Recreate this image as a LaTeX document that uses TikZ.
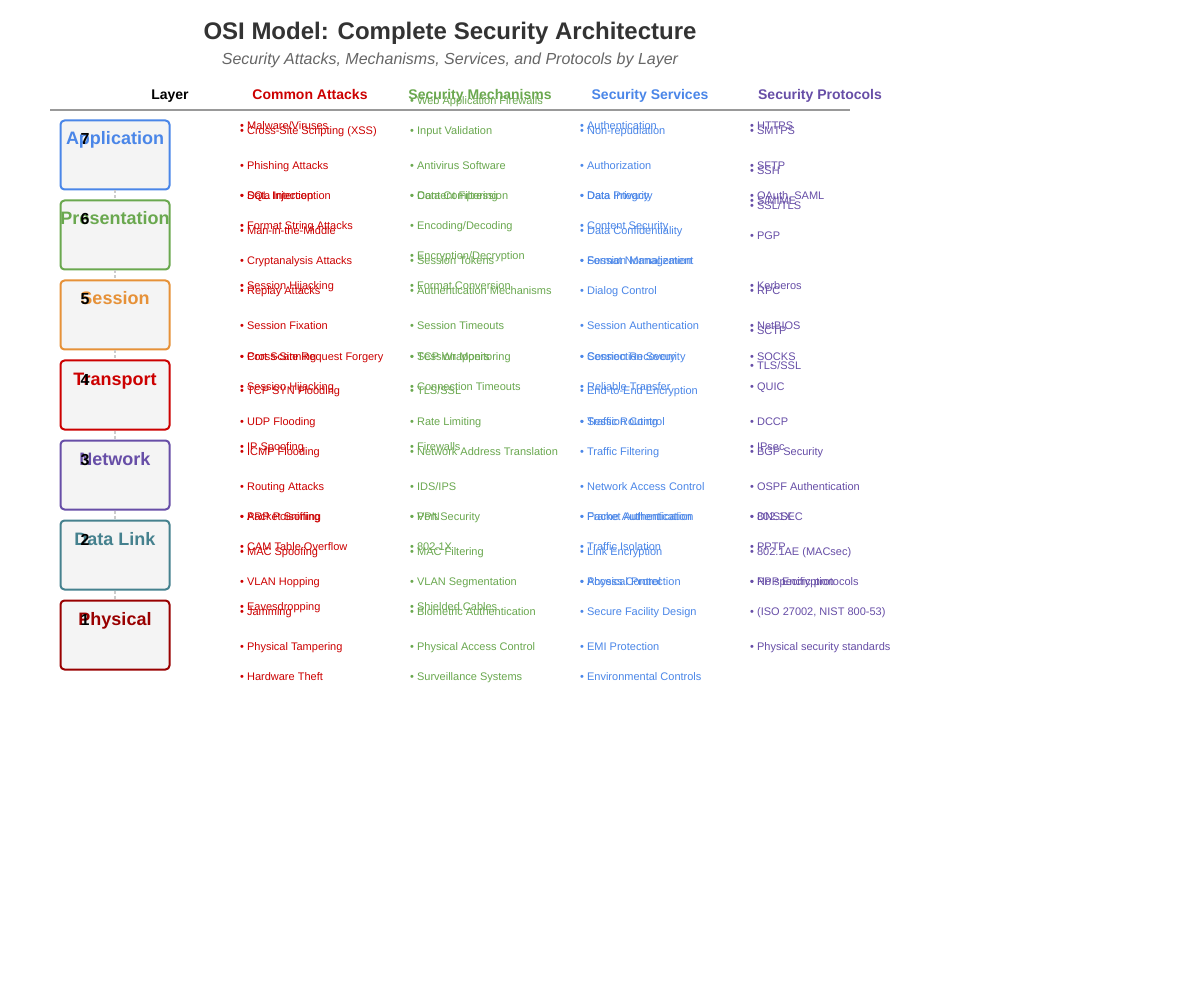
\documentclass[tikz,border=0pt]{standalone}
\usepackage{fontspec}
\setmainfont{Liberation Sans}
\definecolor{ttl}{HTML}{333333}
\definecolor{subc}{HTML}{666666}
\definecolor{rulec}{HTML}{999999}
\definecolor{linkc}{HTML}{CCCCCC}
\definecolor{cAtt}{HTML}{CC0000}
\definecolor{cMech}{HTML}{6AA84F}
\definecolor{cServ}{HTML}{4A86E8}
\definecolor{cProt}{HTML}{674EA7}
\definecolor{cApp}{HTML}{4A86E8}
\definecolor{cPres}{HTML}{6AA84F}
\definecolor{cSes}{HTML}{E69138}
\definecolor{cTra}{HTML}{CC0000}
\definecolor{cNet}{HTML}{674EA7}
\definecolor{cDL}{HTML}{45818E}
\definecolor{cPhy}{HTML}{990000}
\definecolor{boxfill}{HTML}{F4F4F4}
\tikzset{
  itemtext/.style={anchor=base west, inner sep=0pt, font=\fontsize{11}{13}\selectfont},
  att/.style={itemtext, text=cAtt},
  mech/.style={itemtext, text=cMech},
  serv/.style={itemtext, text=cServ},
  prot/.style={itemtext, text=cProt},
  layerbox/.style={draw, rounded corners=4pt, line width=2pt, fill=boxfill,
    minimum width=109pt, minimum height=69pt, inner sep=0pt},
  layername/.style={anchor=base, inner sep=0pt, font=\fontsize{18}{20}\selectfont\bfseries},
  layernum/.style={anchor=base, inner sep=0pt, font=\fontsize{16}{18}\selectfont\bfseries, text=black},
  hdr/.style={anchor=base, inner sep=0pt, font=\fontsize{14}{16}\selectfont\bfseries},
  layerlink/.style={draw=linkc, line width=1.5pt, dash pattern=on 3pt off 2pt},
}
\begin{document}
\begin{tikzpicture}[x=1pt,y=-1pt]
\useasboundingbox (0,0) rectangle (1200,1000);
\fill[white] (0,0) rectangle (1200,1000);

% title
\node[anchor=base, inner sep=0pt, text=ttl, font=\fontsize{24}{28}\selectfont\bfseries] (title) at (450,40) {OSI Model: Complete Security Architecture};
\node[anchor=base, inner sep=0pt, text=subc, font=\fontsize{16}{19}\selectfont\itshape] (subtitle) at (450,65) {Security Attacks, Mechanisms, Services, and Protocols by Layer};

% headers
\node[hdr, text=black] (hLayer) at (170,100) {Layer};
\node[hdr, text=cAtt] (hAtt) at (310,100) {Common Attacks};
\node[hdr, text=cMech] (hMech) at (480,100) {Security Mechanisms};
\node[hdr, text=cServ] (hServ) at (650,100) {Security Services};
\node[hdr, text=cProt] (hProt) at (820,100) {Security Protocols};
\coordinate (ruleL) at (50,110);
\coordinate (ruleR) at (850,110);
\draw[rulec, line width=2pt] (ruleL) -- (ruleR);

% layer boxes
\node[layerbox, draw=cApp]  (L7) at (115,155) {};
\node[layerbox, draw=cPres] (L6) at (115,235) {};
\node[layerbox, draw=cSes]  (L5) at (115,315) {};
\node[layerbox, draw=cTra]  (L4) at (115,395) {};
\node[layerbox, draw=cNet]  (L3) at (115,475) {};
\node[layerbox, draw=cDL]   (L2) at (115,555) {};
\node[layerbox, draw=cPhy]  (L1) at (115,635) {};

\draw[layerlink] (L7.south) -- (L6.north);
\draw[layerlink] (L6.south) -- (L5.north);
\draw[layerlink] (L5.south) -- (L4.north);
\draw[layerlink] (L4.south) -- (L3.north);
\draw[layerlink] (L3.south) -- (L2.north);
\draw[layerlink] (L2.south) -- (L1.north);

\node[layername, text=cApp]  (N7) at (115,145) {Application};
\node[layername, text=cPres] (N6) at (115,225) {Presentation};
\node[layername, text=cSes]  (N5) at (115,305) {Session};
\node[layername, text=cTra]  (N4) at (115,385) {Transport};
\node[layername, text=cNet]  (N3) at (115,465) {Network};
\node[layername, text=cDL]   (N2) at (115,545) {Data Link};
\node[layername, text=cPhy]  (N1) at (115,625) {Physical};

\node[layernum] (U7) at (85,145) {7};
\node[layernum] (U6) at (85,225) {6};
\node[layernum] (U5) at (85,305) {5};
\node[layernum] (U4) at (85,385) {4};
\node[layernum] (U3) at (85,465) {3};
\node[layernum] (U2) at (85,545) {2};
\node[layernum] (U1) at (85,625) {1};

% attacks
\foreach \yy/\tx [count=\i] in {
  126/{Malware/Viruses}, 131/{Cross-Site Scripting (XSS)}, 166/{Phishing Attacks},
  196/{SQL Injection}, 196/{Data Interception}, 226/{Format String Attacks},
  231/{Man-in-the-Middle}, 261/{Cryptanalysis Attacks}, 286/{Session Hijacking},
  291/{Replay Attacks}, 326/{Session Fixation}, 356/{Cross-Site Request Forgery},
  356/{Port Scanning}, 386/{Session Hijacking}, 391/{TCP SYN Flooding},
  421/{UDP Flooding}, 446/{IP Spoofing}, 451/{ICMP Flooding}, 486/{Routing Attacks},
  516/{ARP Poisoning}, 516/{Packet Sniffing}, 546/{CAM Table Overflow},
  551/{MAC Spoofing}, 581/{VLAN Hopping}, 606/{Eavesdropping}, 611/{Jamming},
  646/{Physical Tampering}, 676/{Hardware Theft}}
  \node[att] (att\i) at (240,\yy+4) {• \tx};

% mechanisms
\foreach \yy/\tx [count=\i] in {
  101/{Web Application Firewalls}, 131/{Input Validation}, 166/{Antivirus Software},
  196/{Data Compression}, 196/{Content Filtering}, 226/{Encoding/Decoding},
  256/{Encryption/Decryption}, 261/{Session Tokens}, 286/{Format Conversion},
  291/{Authentication Mechanisms}, 326/{Session Timeouts}, 356/{TCP Wrappers},
  356/{Session Monitoring}, 386/{Connection Timeouts}, 391/{TLS/SSL},
  421/{Rate Limiting}, 446/{Firewalls}, 451/{Network Address Translation},
  486/{IDS/IPS}, 516/{VPN}, 516/{Port Security}, 546/{802.1X}, 551/{MAC Filtering},
  581/{VLAN Segmentation}, 606/{Shielded Cables}, 611/{Biometric Authentication},
  646/{Physical Access Control}, 676/{Surveillance Systems}}
  \node[mech] (mech\i) at (410,\yy+4) {• \tx};

% services
\foreach \yy/\tx [count=\i] in {
  126/{Authentication}, 131/{Non-repudiation}, 166/{Authorization},
  196/{Data Integrity}, 196/{Data Privacy}, 226/{Content Security},
  231/{Data Confidentiality}, 261/{Session Management}, 261/{Format Normalization},
  291/{Dialog Control}, 326/{Session Authentication}, 356/{Session Recovery},
  356/{Connection Security}, 386/{Reliable Transfer}, 391/{End-to-End Encryption},
  421/{Session Control}, 421/{Traffic Routing}, 451/{Traffic Filtering},
  486/{Network Access Control}, 516/{Packet Authentication}, 516/{Frame Authentication},
  546/{Traffic Isolation}, 551/{Link Encryption}, 581/{Access Control},
  581/{Physical Protection}, 611/{Secure Facility Design}, 646/{EMI Protection},
  676/{Environmental Controls}}
  \node[serv] (serv\i) at (580,\yy+4) {• \tx};

% protocols
\foreach \yy/\tx [count=\i] in {
  126/{HTTPS}, 131/{SMTPS}, 166/{SFTP}, 171/{SSH}, 196/{OAuth, SAML},
  201/{S/MIME}, 206/{SSL/TLS}, 236/{PGP}, 286/{Kerberos}, 291/{RPC},
  326/{NetBIOS}, 331/{SCTP}, 356/{SOCKS}, 366/{TLS/SSL}, 386/{QUIC},
  421/{DCCP}, 446/{IPsec}, 451/{BGP Security}, 486/{OSPF Authentication},
  516/{802.1X}, 516/{DNSSEC}, 546/{PPTP}, 551/{802.1AE (MACsec)},
  581/{No specific protocols}, 581/{PPP Encryption},
  611/{(ISO 27002, NIST 800-53)}, 646/{Physical security standards}}
  \node[prot] (prot\i) at (750,\yy+4) {• \tx};
\end{tikzpicture}
\end{document}
